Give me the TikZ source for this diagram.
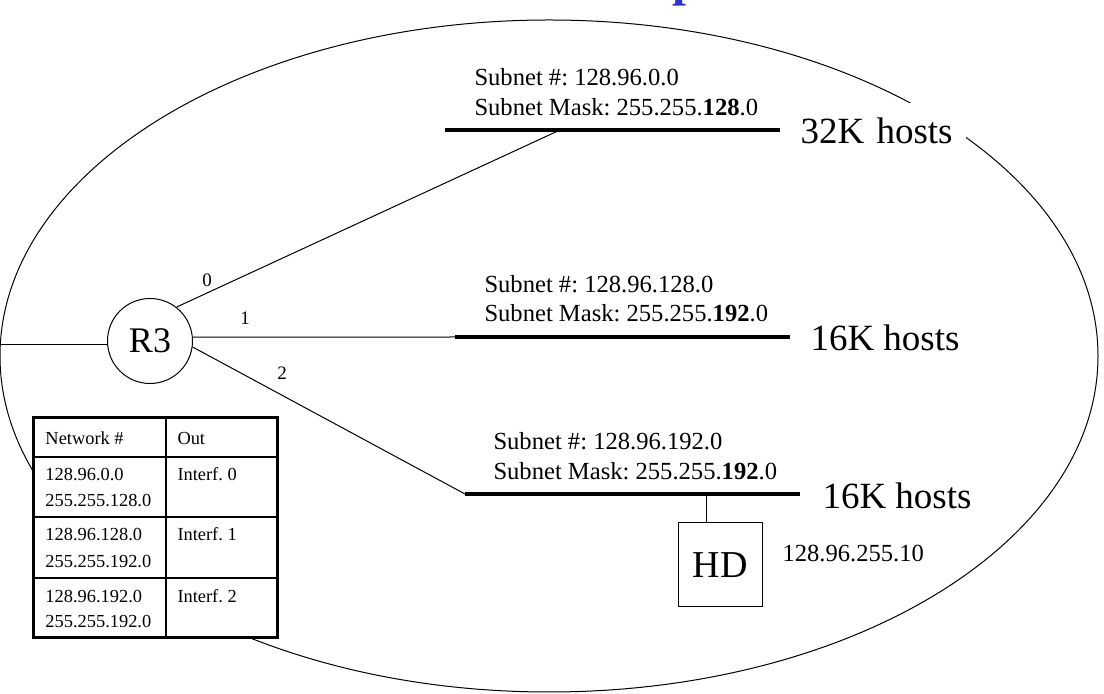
\documentclass[tikz,border=0pt]{standalone}
\usepackage{fontspec}
\setmainfont{Liberation Serif}
\definecolor{titleblue}{RGB}{51,51,204}
\newcommand{\fsz}[1]{\fontsize{#1}{#1}\selectfont}
\frenchspacing

\begin{document}
\begin{tikzpicture}[x=0.5pt,y=-0.5pt,line width=0.5pt,
    bar/.style={line width=2pt},
    txt/.style={anchor=base west,inner sep=0,font=\fsz{12.3}},
    cell/.style={anchor=base west,inner sep=0,font=\fsz{9.2}},
    hosts/.style={anchor=base west,inner sep=0,font=\fsz{18.5}}]
    \useasboundingbox (0,0) rectangle (1104,694);
    % what is left of the title
    \node[anchor=base west,inner sep=0,text=titleblue,font=\fsz{25}\bfseries] (title) at (672,-4) {p};
    \draw (549,356) ellipse (549 and 336);

    % router
    \node[draw,circle,minimum size=42.5pt,inner sep=0,fill=white,font=\fsz{18}] (r3) at (150,341) {R3};
    \coordinate (lan) at (0,345);
    \draw (lan) -- (lan -| r3.west);

    % the three subnets
    \coordinate (net0w) at (445,130);
    \coordinate (net0e) at (780,130);
    \coordinate (net1w) at (455,337);
    \coordinate (net1e) at (790,337);
    \coordinate (net2w) at (465,494);
    \coordinate (net2e) at (800,494);
    \coordinate (tap0) at (560,130);
    \coordinate (tap2) at (706,494);
    \draw[bar] (net0w) -- (net0e);
    \draw[bar] (net1w) -- (net1e);
    \draw[bar] (net2w) -- (net2e);
    \draw (r3.52) -- (tap0);
    \draw (r3.5) -- (net1w);
    \draw (r3.-8) -- (net2w);
    \node[font=\fsz{9.5}] (if0) at (207,280) {0};
    \node[font=\fsz{9.5}] (if1) at (245,318) {1};
    \node[font=\fsz{9.5}] (if2) at (282,373) {2};

    \node[txt] (sub0) at (474,86) {Subnet \#: 128.96.0.0};
    \node[txt] (mask0) at (474,116) {Subnet Mask: 255.255.\textbf{128}.0};
    \node[txt] (sub1) at (484,293) {Subnet \#: 128.96.128.0};
    \node[txt] (mask1) at (484,322) {Subnet Mask: 255.255.\textbf{192}.0};
    \node[txt] (sub2) at (493,450) {Subnet \#: 128.96.192.0};
    \node[txt] (mask2) at (493,480) {Subnet Mask: 255.255.\textbf{192}.0};

    \node[anchor=west,fill=white,inner xsep=2.5pt,text width=80pt,align=left,minimum height=28pt,font=\fsz{18.5}] (hosts0) at (795,131) {32K hosts};
    \node[hosts] (hosts1) at (810,351) {16K hosts};
    \node[hosts] (hosts2) at (822,509) {16K hosts};

    % host
    \node[draw,minimum size=42pt,inner sep=0,font=\fsz{19}] (hd) at (720,565) {HD};
    \draw (tap2) -- (tap2 |- hd.north);
    \node[txt] (hdip) at (782,562) {128.96.255.10};

    % routing table
    \draw[fill=white,line width=1.5pt] (33,418) rectangle (277,638);
    \draw[line width=0.75pt] (166,418) -- (166,638)
        (33,457) -- (277,457) (33,517) -- (277,517) (33,578) -- (277,578);
    \node[cell] (hnet) at (45,445) {Network \#};
    \node[cell] (hout) at (177,445) {Out};
    \node[cell] (n0) at (45,481) {128.96.0.0};
    \node[cell] (m0) at (45,507) {255.255.128.0};
    \node[cell] (o0) at (177,481) {Interf. 0};
    \node[cell] (n1) at (45,541) {128.96.128.0};
    \node[cell] (m1) at (45,568) {255.255.192.0};
    \node[cell] (o1) at (177,541) {Interf. 1};
    \node[cell] (n2) at (45,603) {128.96.192.0};
    \node[cell] (m2) at (45,628) {255.255.192.0};
    \node[cell] (o2) at (177,603) {Interf. 2};
\end{tikzpicture}
\end{document}
